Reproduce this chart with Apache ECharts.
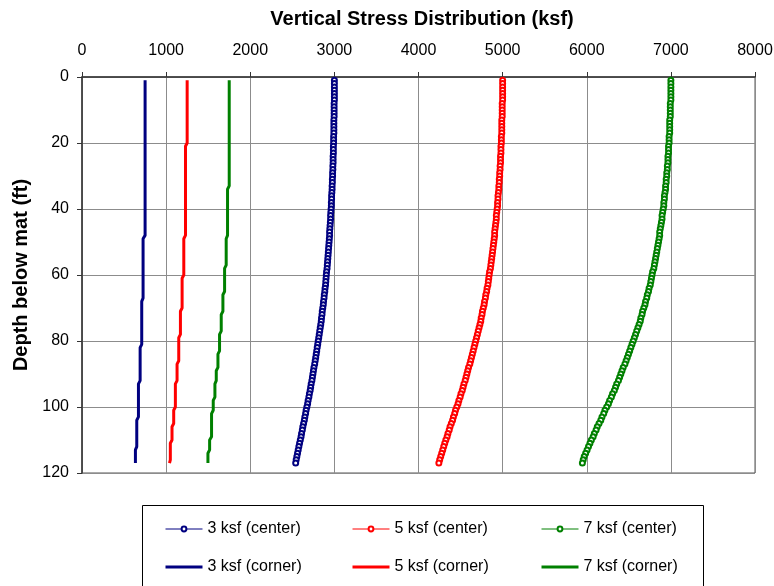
<!DOCTYPE html>
<html>
<head>
<meta charset="utf-8">
<script src="https://cdn.jsdelivr.net/npm/echarts@6/dist/echarts.min.js"></script>
<style>html,body{margin:0;padding:0;background:#fff}#c{width:774px;height:586px}</style>
</head>
<body>
<div id="c"></div>
<script>
// ---- data ----
const depths = [1,2,3,4,5,6,7,8,9,10,11,12,13,14,15,16,17,18,19,20,21,22,23,24,25,26,27,28,29,30,31,32,33,34,35,36,37,38,39,40,41,42,43,44,45,46,47,48,49,50,51,52,53,54,55,56,57,58,59,60,61,62,63,64,65,66,67,68,69,70,71,72,73,74,75,76,77,78,79,80,81,82,83,84,85,86,87,88,89,90,91,92,93,94,95,96,97,98,99,100,101,102,103,104,105,106,107,108,109,110,111,112,113,114,115,116,117];

const center3 = [3000,3000,3000,3000,3000,3000,3000,2997,2997,2997,
2997,2997,2994,2994,2994,2994,2994,2991,2991,2991,
2988,2988,2988,2985,2985,2985,2982,2982,2979,2979,
2976,2976,2973,2973,2970,2967,2967,2964,2964,2961,
2958,2955,2955,2952,2949,2946,2943,2943,2940,2937,
2934,2931,2928,2925,2922,2919,2916,2913,2907,2904,
2901,2898,2895,2889,2886,2880,2877,2871,2868,2862,
2856,2853,2847,2844,2838,2832,2826,2820,2814,2808,
2802,2796,2790,2784,2778,2772,2766,2757,2751,2745,
2739,2733,2724,2718,2712,2703,2697,2688,2682,2673,
2664,2658,2649,2643,2634,2625,2619,2610,2604,2595,
2586,2578,2570,2562,2554,2546,2540];

const center5 = [5000,5000,5000,5000,5000,5000,5000,4995,4995,4995,
4995,4995,4990,4990,4990,4990,4990,4985,4985,4985,
4980,4980,4980,4975,4975,4975,4970,4970,4965,4965,
4960,4960,4955,4955,4950,4945,4945,4940,4940,4935,
4930,4925,4925,4920,4915,4910,4905,4905,4900,4895,
4890,4885,4880,4875,4870,4865,4860,4855,4845,4840,
4835,4830,4825,4815,4810,4800,4795,4785,4780,4770,
4760,4755,4745,4740,4730,4720,4710,4700,4690,4680,
4670,4660,4650,4640,4630,4620,4610,4595,4585,4575,
4565,4555,4540,4530,4520,4505,4495,4480,4470,4455,
4440,4430,4415,4405,4390,4375,4365,4350,4340,4325,
4312,4300,4288,4276,4264,4252,4242];

const center7 = [7000,7000,7000,7000,7000,7000,7000,6993,6993,6993,
6993,6993,6986,6986,6986,6986,6986,6979,6979,6979,
6972,6972,6972,6965,6965,6965,6958,6958,6951,6951,
6944,6944,6937,6937,6930,6923,6923,6916,6916,6909,
6902,6895,6895,6888,6881,6874,6867,6867,6860,6853,
6846,6839,6832,6825,6818,6811,6804,6797,6783,6776,
6769,6762,6755,6741,6734,6720,6713,6699,6692,6678,
6664,6657,6643,6636,6622,6608,6594,6580,6566,6552,
6538,6524,6510,6496,6482,6468,6454,6433,6419,6405,
6391,6377,6356,6342,6328,6307,6293,6272,6258,6237,
6216,6202,6181,6167,6146,6125,6111,6090,6076,6055,
6038,6021,6004,5987,5970,5958,5948];

const cornerDepth3 = [1,48,49,67,68,81,82,92,93,103,104,112,113,117];
const corner3 = [750,750,726,726,710,710,691,691,671,671,651,651,635,635];

const cornerDepth5 = [1,20,21,48,49,60,61,70,71,78,79,86,87,92,93,100,101,105,106,110,111,116,117];
const corner5 = [1250,1250,1230,1230,1210,1210,1190,1190,1170,1170,1150,1150,1130,1130,1110,1110,1090,1090,1070,1070,1050,1050,1040];

const cornerDepth7 = [1,33,34,48,49,57,58,65,66,71,72,77,78,83,84,88,89,92,93,97,98,101,102,109,110,113,114,117];
const corner7 = [1750,1750,1730,1730,1714,1714,1695,1695,1675,1675,1655,1655,1635,1635,1616,1616,1596,1596,1580,1580,1560,1560,1540,1540,1517,1517,1497,1497];

const seriesNames = ['3 ksf (center)','5 ksf (center)','7 ksf (center)','3 ksf (corner)','5 ksf (corner)','7 ksf (corner)'];
const xTicks = {min:0, max:8000, interval:1000};
const yTicks = {min:0, max:120, interval:20};

// ---- chart ----
const FONT = '"Liberation Sans", Arial, sans-serif';
const colors = ['#000080','#FF0000','#008000'];
const pair = (xs, ys) => xs.map((v,i)=>[v, ys[i]]);

function centerSeries(name, vals, color){
  return {name, type:'line', data:pair(vals, depths), symbol:'emptyCircle', symbolSize:5,
    showAllSymbol:true, lineStyle:{color, width:1}, itemStyle:{color, borderColor:color, borderWidth:1},
    emphasis:{disabled:true}, animation:false, z:3};
}
function cornerSeries(name, vals, ds, color){
  return {name, type:'line', data:pair(vals, ds), symbol:'none', lineStyle:{color, width:3},
    itemStyle:{color}, emphasis:{disabled:true}, animation:false, z:2};
}
const barIcon = 'path://M0 0H37V3.2H0Z';
function legendCol(i, left){
  return {left, top:521, orient:'vertical', padding:0, itemWidth:37, itemHeight:6, itemGap:22,
    selectedMode:false,
    textStyle:{fontSize:16, color:'#000', fontFamily:FONT, lineHeight:16},
    data:[
      {name:seriesNames[i], lineStyle:{width:1, color:colors[i]}},
      {name:seriesNames[i+3], icon:barIcon, itemStyle:{color:colors[i]}}
    ]};
}

const chart = echarts.init(document.getElementById('c'), null, {renderer:'canvas'});
chart.setOption({
  animation:false,
  backgroundColor:'#fff',
  title:{text:'Vertical Stress Distribution (ksf)', left:417, top:4, textAlign:'center',
    textStyle:{fontSize:20, fontWeight:'bold', color:'#000', fontFamily:FONT}},
  grid:{left:82, right:19, top:77, bottom:113, show:true, borderColor:'#555', borderWidth:1,
    containLabel:false, outerBoundsMode:'none'},
  xAxis:{type:'value', position:'top', min:xTicks.min, max:xTicks.max, interval:xTicks.interval,
    axisLine:{show:true, lineStyle:{color:'#333', width:1.5}},
    axisTick:{show:true, length:5, inside:false, lineStyle:{color:'#333'}},
    axisLabel:{fontSize:16, color:'#000', fontFamily:FONT, margin:18, formatter:v=>String(v)},
    splitLine:{show:true, lineStyle:{color:'#8c8c8c', width:1}}},
  yAxis:{type:'value', inverse:true, min:yTicks.min, max:yTicks.max, interval:yTicks.interval,
    name:'Depth below mat (ft)', nameLocation:'middle', nameGap:50, nameRotate:90,
    nameTextStyle:{fontSize:20, fontWeight:'bold', color:'#000', fontFamily:FONT},
    axisLine:{show:true, lineStyle:{color:'#333', width:1.5}},
    axisTick:{show:true, length:5, inside:false, lineStyle:{color:'#333'}},
    axisLabel:{fontSize:16, color:'#000', fontFamily:FONT, margin:13, formatter:v=>String(v)},
    splitLine:{show:true, lineStyle:{color:'#8c8c8c', width:1}}},
  legend:[legendCol(0,165), legendCol(1,352), legendCol(2,541)],
  graphic:[{type:'rect', shape:{x:142.5, y:505.5, width:561, height:120},
    style:{fill:null, stroke:'#000', lineWidth:1}, silent:true, z:-1}],
  series:[
    centerSeries(seriesNames[0], center3, colors[0]),
    centerSeries(seriesNames[1], center5, colors[1]),
    centerSeries(seriesNames[2], center7, colors[2]),
    cornerSeries(seriesNames[3], corner3, cornerDepth3, colors[0]),
    cornerSeries(seriesNames[4], corner5, cornerDepth5, colors[1]),
    cornerSeries(seriesNames[5], corner7, cornerDepth7, colors[2])
  ]
});
</script>
</body>
</html>
